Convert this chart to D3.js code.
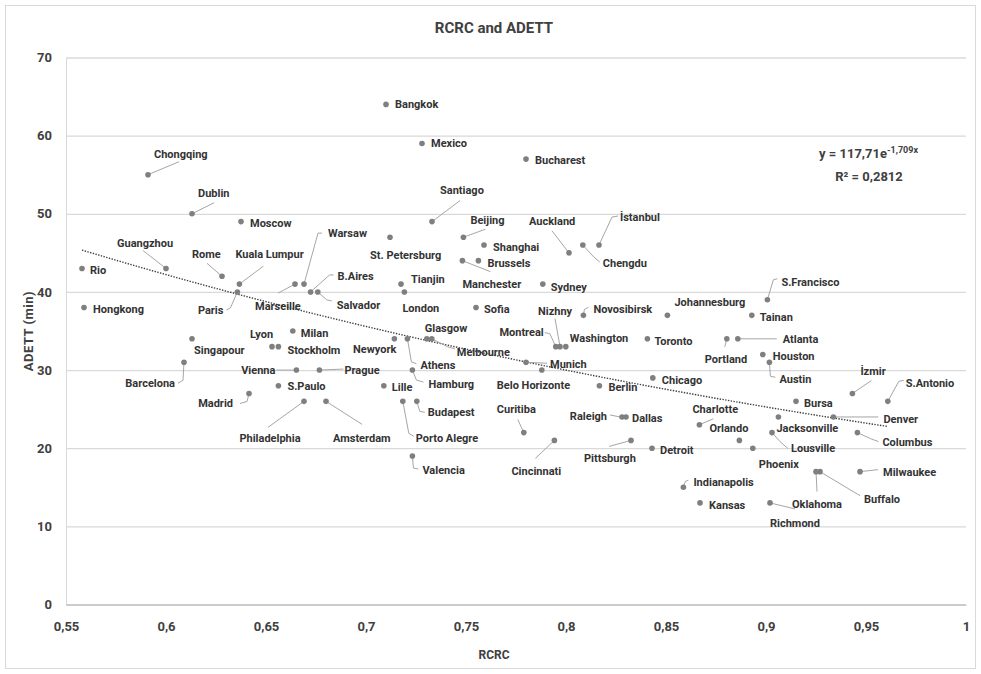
<!DOCTYPE html>
<html>
<head>
<meta charset="utf-8">
<script src="https://cdn.jsdelivr.net/npm/d3@7"></script>
<style>
  html, body { margin: 0; padding: 0; background: #fff; }
  svg { display: block; }
  text { font-family: Roboto, 'Open Sans', sans-serif; font-weight: bold; }
</style>
</head>
<body>
<svg id="chart" width="981" height="674"></svg>
<script>
// City names, RCRC (x) and ADETT in minutes (y)
const cities = [
  "Bangkok","Mexico","Bucharest","Chongqing","Dublin","Moscow","Santiago","Beijing","St. Petersburg","Shanghai",
  "Auckland","Chengdu","İstanbul","Brussels","Manchester","Guangzhou","Rio","Rome","Kuala Lumpur","Marseille",
  "Warsaw","B.Aires","Salvador","Tianjin","Sydney","S.Francisco","Paris","London","Hongkong","Sofia",
  "Johannesburg","Tainan","Novosibirsk","Milan","Singapour","Newyork","Athens","Glasgow","Melbourne","Portland",
  "Atlanta","Toronto","Montreal","Nizhny","Washington","Lyon","Stockholm","Houston","Austin","Barcelona",
  "Munich","Belo Horizonte","Vienna","Prague","Hamburg","Lille","Berlin","Chicago","İzmir","S.Antonio",
  "Bursa","Madrid","S.Paulo","Philadelphia","Amsterdam","Budapest","Porto Alegre","Curitiba","Raleigh","Dallas",
  "Cincinnati","Pittsburgh","Detroit","Valencia","Charlotte","Orlando","Phoenix","Jacksonville","Lousville","Denver",
  "Columbus","Milwaukee","Buffalo","Oklahoma","Indianapolis","Kansas","Richmond"
];
const rcrc = [
  0.710,0.728,0.780,0.591,0.613,0.6375,0.733,0.7487,0.712,0.759,
  0.8015,0.8084,0.8165,0.7562,0.7482,0.600,0.558,0.628,0.6367,0.6645,
  0.669,0.6723,0.6759,0.7175,0.7884,0.9007,0.6357,0.7192,0.559,0.755,
  0.8507,0.8929,0.8087,0.6634,0.613,0.7142,0.7207,0.7304,0.7329,0.8804,
  0.8859,0.8407,0.7949,0.797,0.7999,0.653,0.6562,0.8984,0.9017,0.609,
  0.780,0.7879,0.6652,0.6767,0.7232,0.7089,0.8167,0.8434,0.9432,0.9609,
  0.915,0.6415,0.6562,0.669,0.680,0.7254,0.7184,0.7789,0.828,0.830,
  0.7942,0.8325,0.843,0.7232,0.8667,0.8867,0.8934,0.9062,0.903,0.9337,
  0.9457,0.947,0.927,0.925,0.8587,0.867,0.902
];
const adett = [
  64,59,57,55,50,49,49,47,47,46,
  45,46,46,44,44,43,43,42,41,41,
  41,40,40,41,41,39,40,40,38,38,
  37,37,37,35,34,34,34,34,34,34,
  34,34,33,33,33,33,33,32,31,31,
  31,30,30,30,30,28,28,29,27,26,
  26,27,28,26,26,26,26,22,24,24,
  21,21,20,19,23,21,20,24,22,24,
  22,17,17,17,15,13,13
];
// Fitted exponential trend: y = a * e^(b x)
const trendA = 117.71;
const trendB = -1.709;
const trendText = ["y = 117,71e", "-1,709x", "R² = 0,2812"];
const xTicks = [0.55,0.6,0.65,0.7,0.75,0.8,0.85,0.9,0.95,1];
const yTicks = [0,10,20,30,40,50,60,70];

// Label placement: text offset from the dot, anchor, optional leader polyline (offsets from the dot)
const labelLayout = {
  "Bangkok":[9,0],"Mexico":[9,0],"Bucharest":[9,1],
  "Chongqing":[6,-21,"start",[[31,-13]]],"Dublin":[6,-21,"start",[[22,-11]]],"Moscow":[9,2],
  "Santiago":[8,-31,"start",[[28,-21]]],"Beijing":[7,-17,"start",[[22,-8]]],"St. Petersburg":[-20,18],
  "Shanghai":[9,2],"Auckland":[-40,-32,"start",[[-17,-22]]],"Chengdu":[20,18,"start",[[11,12],[17,17]]],
  "İstanbul":[21,-28,"start",[[13,-28],[19,-29]]],"Brussels":[9,2],"Manchester":[0,23,"start",[[28,11]]],
  "Guangzhou":[-49,-25,"start",[[-23,-18]]],"Rio":[8,2],"Rome":[-30,-22,"start",[[-15,-13]]],
  "Kuala Lumpur":[-4,-30,"start",[[24,-18]]],"Marseille":[-40,22,"start",[[-17,9]]],
  "Warsaw":[24,-51,"start",[[14,-51],[18,-51]]],"B.Aires":[27,-16,"start",[[19,-17],[23,-17]]],
  "Salvador":[19,13,"start",[[9,8],[14,9]]],"Tianjin":[10,-5],"Sydney":[8,3],
  "S.Francisco":[14,-18,"start",[[6,-20],[10,-21]]],"Paris":[-14,18,"end",[[-7,16],[-11,18]]],
  "London":[-2,16],"Hongkong":[9,2],"Sofia":[8,2],"Johannesburg":[7,-13],"Tainan":[8,2],
  "Novosibirsk":[10,-6,"start",[[1,-6],[5,-8]]],"Milan":[8,2],"Singapour":[2,11],"Newyork":[2,10,"end"],
  "Athens":[13,26,"start",[[4,23],[9,25]]],"Glasgow":[-2,-11],"Melbourne":[25,13,"start",[[16,8],[23,10]]],
  "Portland":[-22,20,"start",[[-2,8]]],"Atlanta":[45,0,"start",[[39,0]]],"Toronto":[7,2],
  "Montreal":[-12,-14,"end",[[-6,-13],[-11,-14]]],"Nizhny":[-22,-35,"start",[[-5,-28]]],"Washington":[4,-8],
  "Lyon":[-22,-12],"Stockholm":[9,4],"Houston":[10,2],"Austin":[10,17,"start",[[1,14],[6,15]]],
  "Barcelona":[-9,21,"end",[[-1,18],[-6,21]]],"Munich":[24,2,"start",[[21,1]]],"Belo Horizonte":[-45,15],
  "Vienna":[-21,0,"end",[[-20,0]]],"Prague":[25,0,"start",[[24,-1]]],"Hamburg":[16,14,"start",[[4,10],[11,12]]],
  "Lille":[8,1],"Berlin":[9,1],"Chicago":[9,2],"İzmir":[8,-22,"start",[[19,-13]]],
  "S.Antonio":[18,-18,"start",[[11,-20],[16,-21]]],"Bursa":[8,2],"Madrid":[-16,10,"end",[[-2,8],[-9,10]]],
  "S.Paulo":[9,0],"Philadelphia":[-34,37,"middle",[[-36,26]]],"Amsterdam":[7,37,"start",[[36,23]]],
  "Budapest":[11,11,"start",[[3,10],[8,11]]],"Porto Alegre":[13,37,"start",[[6,32],[11,35]]],
  "Curitiba":[-27,-23,"start",[[-6,-13]]],"Raleigh":[-15,-1,"end",[[-2,0],[-12,-2]]],"Dallas":[6,1],
  "Cincinnati":[-43,31,"start",[[-19,18]]],"Pittsburgh":[-47,18,"start",[[-22,6]]],"Detroit":[8,2],
  "Valencia":[10,14,"start",[[1,12],[6,13]]],"Charlotte":[-7,-16,"start",[[14,-6]]],"Orlando":[-30,-12],
  "Phoenix":[6,16],"Jacksonville":[-2,11],"Lousville":[19,16,"start",[[8,9],[16,16]]],
  "Denver":[50,2,"start",[[45,0]]],"Columbus":[25,10,"start",[[13,6],[21,9]]],
  "Milwaukee":[23,0,"start",[[18,-2]]],"Buffalo":[44,27,"start",[[40,24]]],
  "Oklahoma":[1,32,"middle",[[1,20]]],"Indianapolis":[10,-5,"start",[[2,-6],[5,-7]]],
  "Kansas":[9,2],"Richmond":[25,20,"middle",[[25,6]]]
};

const FONT = "Roboto, 'Open Sans', sans-serif";
const svg = d3.select("#chart");
const W = 981, H = 674;
const plot = { left: 66, right: 966, top: 57.5, bottom: 604.5 };

const x = d3.scaleLinear().domain([0.55, 1]).range([plot.left, plot.right]);
const y = d3.scaleLinear().domain([0, 70]).range([plot.bottom, plot.top]);

// Outer chart frame
svg.append("rect").attr("x", 5.5).attr("y", 5.5).attr("width", W - 11).attr("height", H - 11)
  .attr("fill", "#fff").attr("stroke", "#d9d9d9").attr("stroke-width", 1);

// Horizontal gridlines via the y axis
const yAxis = d3.axisLeft(y).tickValues(yTicks).tickSize(-(plot.right - plot.left)).tickPadding(14)
  .tickFormat(d3.format("d"));
const gy = svg.append("g").attr("transform", `translate(${plot.left},0)`).call(yAxis);
gy.select(".domain").attr("stroke", "#d9d9d9");
gy.selectAll(".tick line").attr("stroke", d => d === 0 ? "#bfbfbf" : "#d9d9d9").attr("stroke-width", 1.2);
gy.selectAll(".tick text").attr("fill", "#404040").style("font-size", "13px")
  .style("font-family", FONT).style("font-weight", "bold");

// X axis (no tick marks, labels only)
const xAxis = d3.axisBottom(x).tickValues(xTicks).tickSize(0).tickPadding(17)
  .tickFormat(d => String(d).replace(".", ","));
const gx = svg.append("g").attr("transform", `translate(0,${plot.bottom})`).call(xAxis);
gx.select(".domain").attr("stroke", "#bfbfbf").attr("stroke-width", 1.2);
gx.selectAll(".tick text").attr("fill", "#404040").style("font-size", "13px")
  .style("font-family", FONT).style("font-weight", "bold");

// Exponential trendline over the data range
const xMin = d3.min(rcrc), xMax = d3.max(rcrc);
const trendPts = d3.range(0, 101).map(i => {
  const xv = xMin + (xMax - xMin) * i / 100;
  return [xv, trendA * Math.exp(trendB * xv)];
});
svg.append("path").datum(trendPts)
  .attr("d", d3.line().x(d => x(d[0])).y(d => y(d[1])))
  .attr("fill", "none").attr("stroke", "#404040").attr("stroke-width", 1.4)
  .attr("stroke-dasharray", "1.4,1.4");

const data = cities.map((c, i) => ({ name: c, x: rcrc[i], y: adett[i] }));

// Leader lines
const leaders = svg.append("g");
data.forEach(d => {
  const lay = labelLayout[d.name];
  if (!lay || !lay[3]) return;
  const px = x(d.x), py = y(d.y);
  const pts = [[px, py]].concat(lay[3].map(p => [px + p[0], py + p[1]]));
  leaders.append("path").attr("d", d3.line()(pts))
    .attr("fill", "none").attr("stroke", "#a6a6a6").attr("stroke-width", 1);
});

// Points
svg.append("g").selectAll("circle").data(data).join("circle")
  .attr("cx", d => x(d.x)).attr("cy", d => y(d.y)).attr("r", 2.8).attr("fill", "#7f7f7f");

// City labels
svg.append("g").selectAll("text").data(data).join("text")
  .attr("x", d => x(d.x) + (labelLayout[d.name] || [8, 0])[0])
  .attr("y", d => y(d.y) + (labelLayout[d.name] || [8, 0])[1])
  .attr("dy", "0.35em")
  .attr("text-anchor", d => (labelLayout[d.name] || [])[2] || "start")
  .attr("fill", "#333")
  .style("font-size", "11px")
  .text(d => d.name);

// Title and axis titles
svg.append("text").attr("x", 494).attr("y", 28).attr("dy", "0.35em").attr("text-anchor", "middle")
  .attr("fill", "#404040").style("font-size", "15px").text("RCRC and ADETT");
svg.append("text").attr("x", 494).attr("y", 655).attr("dy", "0.35em").attr("text-anchor", "middle")
  .attr("fill", "#404040").style("font-size", "12px").text("RCRC");
svg.append("text").attr("transform", "translate(28,331) rotate(-90)").attr("dy", "0.35em")
  .attr("text-anchor", "middle").attr("fill", "#404040").style("font-size", "13px")
  .style("letter-spacing", "0.5px").text("ADETT (min)");

// Trend equation
const eq = svg.append("text").attr("x", 819).attr("y", 158).attr("fill", "#404040").style("font-size", "13px");
eq.append("tspan").text(trendText[0]);
eq.append("tspan").attr("dy", -5).style("font-size", "9px").text(trendText[1]);
svg.append("text").attr("x", 869).attr("y", 176).attr("dy", "0.35em").attr("text-anchor", "middle")
  .attr("fill", "#404040").style("font-size", "13px").text(trendText[2]);
</script>
</body>
</html>
